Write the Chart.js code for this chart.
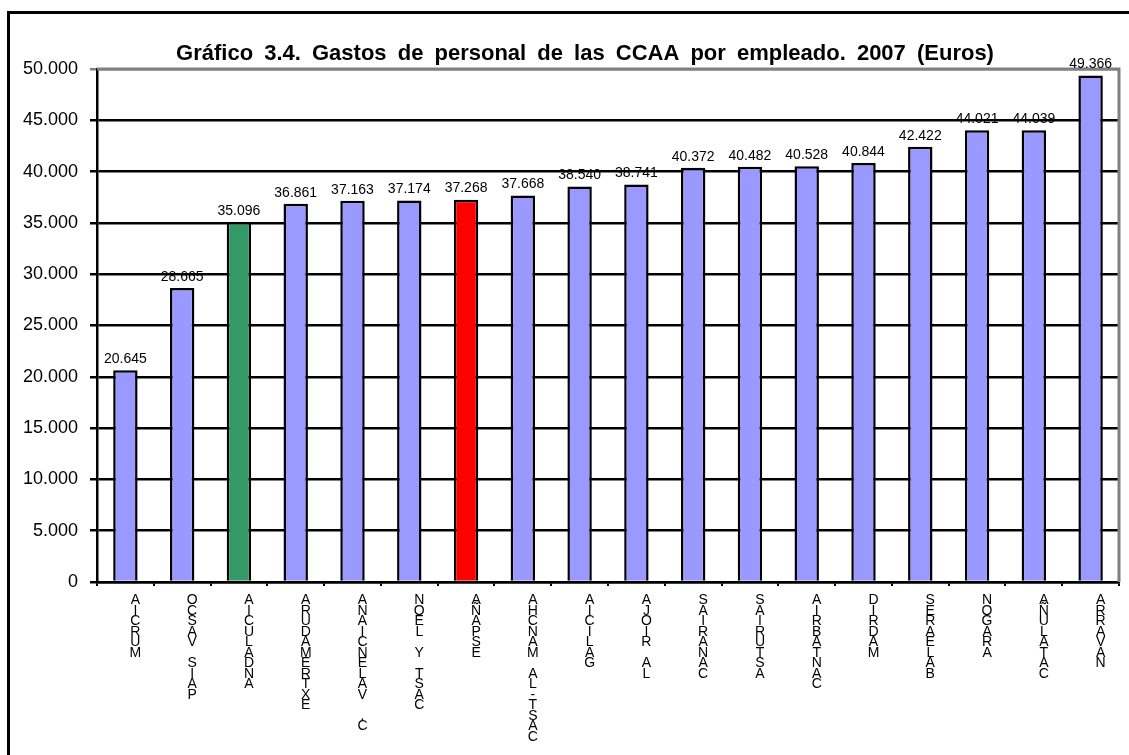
<!DOCTYPE html>
<html>
<head>
<meta charset="utf-8">
<script src="https://cdn.jsdelivr.net/npm/chart.js@4"></script>
<style>
  body { margin: 0; background: #fff; }
  #wrap { width: 1129px; height: 755px; position: relative; }
</style>
</head>
<body>
<div id="wrap"><canvas id="grafico"></canvas></div>
<script>
// comunidades autonomas, ordenadas de menor a mayor gasto
const comunidades = ['MURCIA', 'PAIS VASCO', 'ANDALUCIA', 'EXTREMADURA', 'C. VALENCIANA',
  'CAST Y LEON', 'ESPAÑA', 'CAST-LA MANCHA', 'GALICIA', 'LA RIOJA', 'CANARIAS',
  'ASTURIAS', 'CANTABRIA', 'MADRID', 'BALEARES', 'ARAGON', 'CATALUÑA', 'NAVARRA'];
const gastoPorEmpleado = [20645, 28665, 35096, 36861, 37163, 37174, 37268, 37668,
  38540, 38741, 40372, 40482, 40528, 40844, 42422, 44021, 44039, 49366];
const ticksEje = [0, 5000, 10000, 15000, 20000, 25000, 30000, 35000, 40000, 45000, 50000];

const titulo = 'Gráfico 3.4. Gastos de personal de las CCAA por empleado. 2007 (Euros)';

function miles(v) {
  return String(v).replace(/\B(?=(\d{3})+(?!\d))/g, '.');
}

// las etiquetas salen letra a letra, de abajo arriba
function apilar(nombre) {
  return nombre.split('').reverse();
}

function colorBarra(nombre) {
  if (nombre === 'ANDALUCIA') return '#339966';
  if (nombre === 'ESPAÑA') return '#FF0000';
  return '#9999FF';
}

const marcoYTitulo = {
  id: 'marcoYTitulo',
  beforeDraw(chart) {
    const ctx = chart.ctx;
    ctx.save();
    ctx.strokeStyle = '#000';
    ctx.lineWidth = 3;
    ctx.beginPath();
    ctx.moveTo(8.5, 800);
    ctx.lineTo(8.5, 12.5);
    ctx.lineTo(1200, 12.5);
    ctx.stroke();
    ctx.restore();
  },
  afterDatasetsDraw(chart) {
    const ctx = chart.ctx;
    const a = chart.chartArea;
    ctx.save();
    // borde gris arriba y a la derecha
    ctx.strokeStyle = '#808080';
    ctx.lineWidth = 3;
    ctx.beginPath();
    ctx.moveTo(a.left, a.top);
    ctx.lineTo(a.right, a.top);
    ctx.lineTo(a.right, a.bottom);
    ctx.stroke();

    // valores encima de cada barra
    ctx.fillStyle = '#000';
    ctx.font = '14px Arial, "Liberation Sans", sans-serif';
    ctx.textAlign = 'center';
    ctx.textBaseline = 'bottom';
    chart.getDatasetMeta(0).data.forEach((bar, i) => {
      ctx.fillText(miles(gastoPorEmpleado[i]), bar.x, bar.y - 4);
    });

    ctx.font = 'bold 22px Arial, "Liberation Sans", sans-serif';
    ctx.textBaseline = 'alphabetic';
    if ('wordSpacing' in ctx) ctx.wordSpacing = '5px';
    ctx.fillText(titulo, 585, 60);
    ctx.restore();
  }
};

new Chart(document.getElementById('grafico'), {
  type: 'bar',
  data: {
    labels: comunidades.map(apilar),
    datasets: [{
      data: gastoPorEmpleado,
      backgroundColor: comunidades.map(colorBarra),
      borderColor: '#000',
      borderWidth: 2.5,
      barPercentage: 0.43,
      categoryPercentage: 1
    }]
  },
  options: {
    responsive: true,
    maintainAspectRatio: false,
    animation: false,
    layout: { padding: { left: 20, top: 69, right: 10, bottom: 0 } },
    plugins: {
      legend: { display: false },
      title: { display: false },
      tooltip: { enabled: false }
    },
    scales: {
      x: {
        afterFit(scale) { scale.height = 173; },
        border: { color: '#000', width: 2.5 },
        grid: {
          drawOnChartArea: false,
          drawTicks: true,
          tickLength: 4,
          color: '#000',
          lineWidth: 2,
          offset: true
        },
        ticks: {
          color: '#000',
          maxRotation: 0,
          minRotation: 0,
          autoSkip: false,
          padding: 9,
          labelOffset: 10,
          font: { family: 'Arial, "Liberation Sans", sans-serif', size: 14, lineHeight: 0.75 }
        }
      },
      y: {
        min: 0,
        max: 50000,
        afterFit(scale) { scale.width = 77; },
        afterBuildTicks(scale) { scale.ticks = ticksEje.map(v => ({ value: v })); },
        border: { color: '#000', width: 2.5 },
        grid: {
          color: c => (c.tick && c.tick.value === 50000) ? '#808080' : '#000',
          lineWidth: 2.5,
          tickLength: 7
        },
        ticks: {
          color: '#000',
          padding: 12,
          font: { family: 'Arial, "Liberation Sans", sans-serif', size: 18 },
          callback: v => miles(v)
        }
      }
    }
  },
  plugins: [marcoYTitulo]
});
</script>
</body>
</html>
